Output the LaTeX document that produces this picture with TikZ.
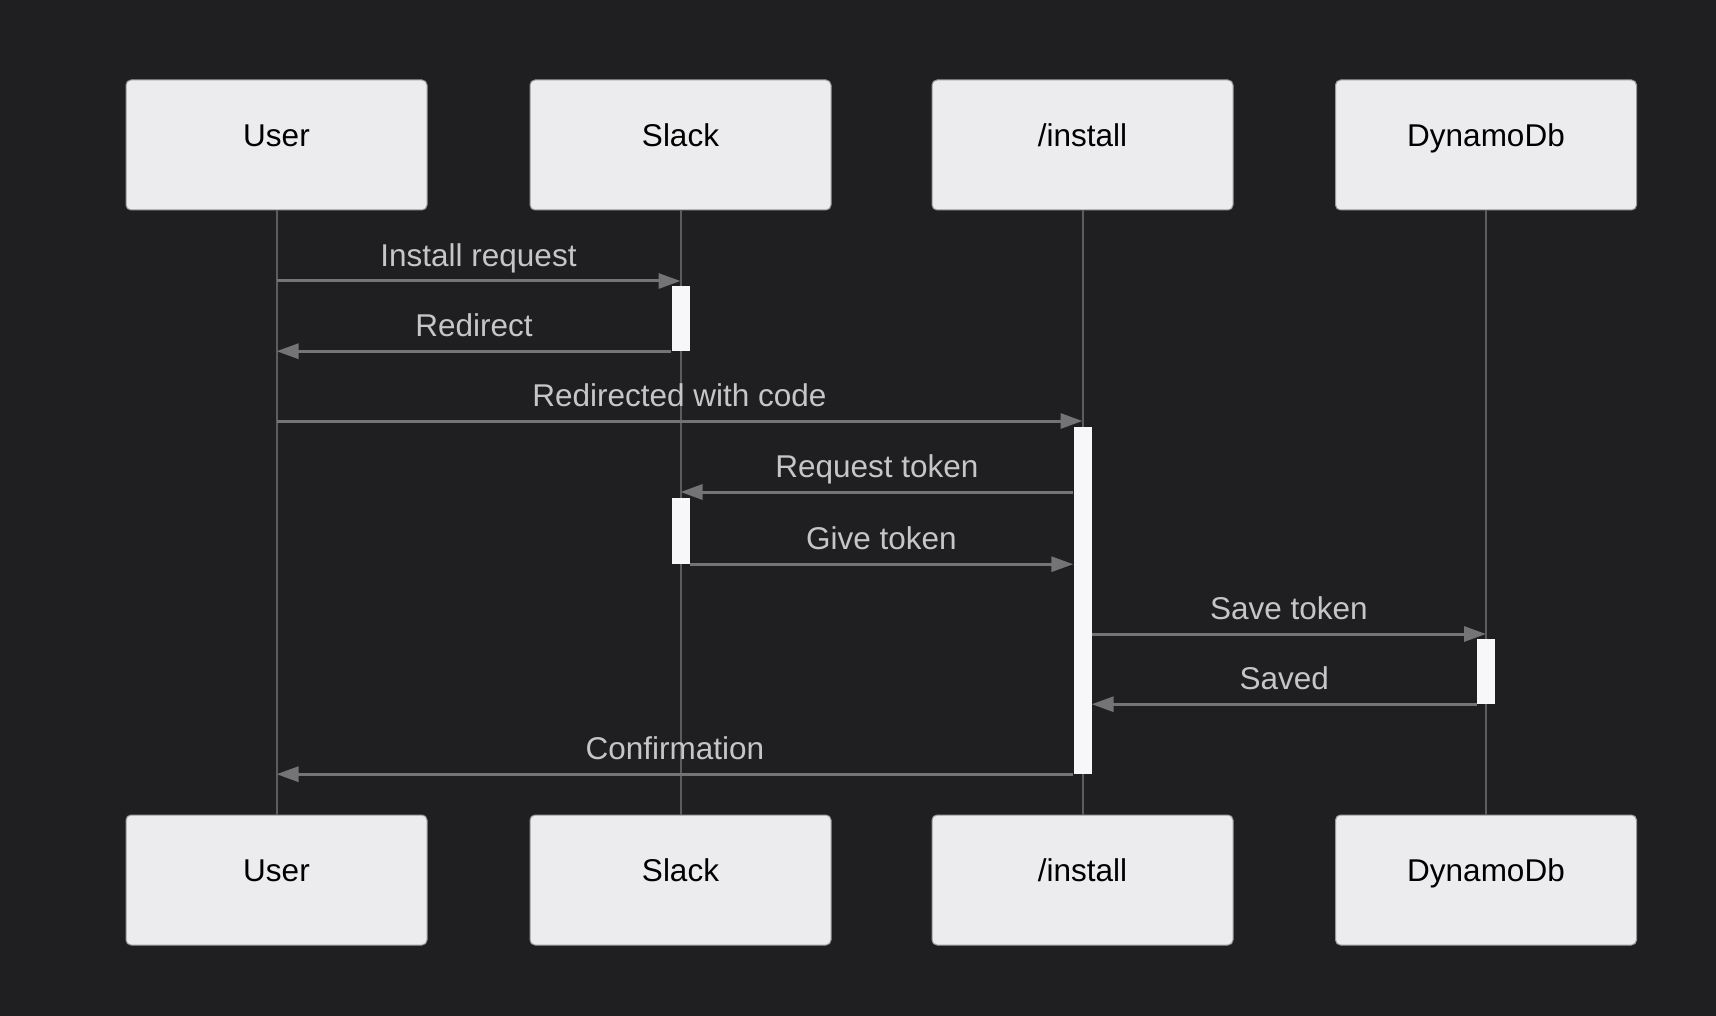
\documentclass[tikz,border=0pt]{standalone}
\usepackage{fontspec}
\setmainfont{Liberation Sans}
\usetikzlibrary{arrows.meta}
\definecolor{bgdark}{HTML}{1F1E21}
\definecolor{boxfill}{HTML}{ECECEE}
\definecolor{boxedge}{HTML}{9A9A9C}
\definecolor{lifegray}{HTML}{5C5C5E}
\definecolor{msggray}{HTML}{747476}
\definecolor{msgtext}{HTML}{C6C6C8}
\definecolor{barwhite}{HTML}{F7F7F9}

\begin{document}
\begin{tikzpicture}[x=1pt, y=-1pt]
    % Draw background
    \fill[bgdark] (0,0) rectangle (1716,1016);
    \useasboundingbox (0,0) rectangle (1716,1016);
    \tikzset{
        actor/.style={draw=boxedge, line width=1pt, fill=boxfill, rounded corners=5pt,
            minimum width=301pt, minimum height=130pt, inner sep=0pt,
            text height=23pt, text depth=20pt, text=black,
            font=\fontsize{31.5}{38}\selectfont},
        lifeline/.style={lifegray, line width=2pt},
        activation/.style={fill=barwhite, draw=none, minimum width=18pt, inner sep=0pt},
        msg/.style={msggray, line width=3pt, -{Triangle[length=22pt, width=15pt]}},
        msglabel/.style={text=msgtext, anchor=base, yshift=14.5pt, inner sep=0pt,
            font=\fontsize{31.5}{38}\selectfont}
    }
    % Draw participants and lifelines
    \foreach \name/\x/\txt in {U/276.5/User, S/680.5/Slack, I/1082.5/{/install}, D/1486/DynamoDb}
    {
        \node[actor] (\name1) at (\x,145) {\txt};
        \node[actor] (\name2) at (\x,880) {\txt};
        \draw[lifeline] (\name1.south) -- (\name2.north);
    }
    % Draw activation bars
    \node[activation, minimum height=65pt] (actS1) at (S1 |- 0,318.5) {};
    \node[activation, minimum height=347pt] (actI) at (I1 |- 0,600.5) {};
    \node[activation, minimum height=66pt] (actS2) at (S1 |- 0,531) {};
    \node[activation, minimum height=65pt] (actD) at (D1 |- 0,671.5) {};
    % Draw messages
    \draw[msg] (U1 |- 0,281) -- (S1 |- 0,281) node[msglabel, midway] (m1) {Install request};
    \draw[msg] (actS1.south west) -- (U1 |- actS1.south) node[msglabel, midway] (m2) {Redirect};
    \draw[msg] (U1 |- 0,421) -- (I1 |- 0,421) node[msglabel, midway] (m3) {Redirected with code};
    \draw[msg] (actI.west |- 0,492) -- (S1 |- 0,492) node[msglabel, midway] (m4) {Request token};
    \draw[msg] (actS2.south east) -- (actI.west |- actS2.south) node[msglabel, midway] (m5) {Give token};
    \draw[msg] (actI.east |- 0,634) -- (D1 |- 0,634) node[msglabel, midway] (m6) {Save token};
    \draw[msg] (actD.south west) -- (actI.east |- actD.south) node[msglabel, midway] (m7) {Saved};
    \draw[msg] (actI.south west) -- (U1 |- actI.south) node[msglabel, midway] (m8) {Confirmation};
\end{tikzpicture}
\end{document}
